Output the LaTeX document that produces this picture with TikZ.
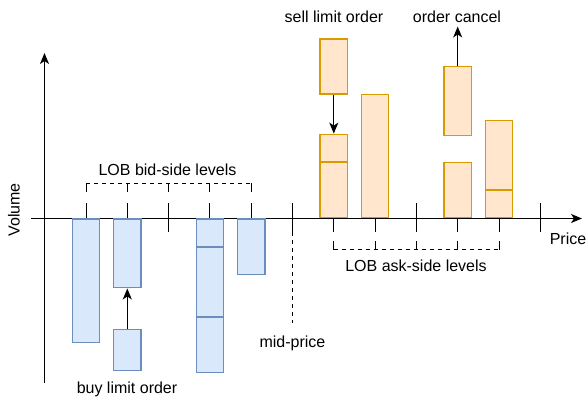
\documentclass[tikz,border=0pt]{standalone}
\usepackage{fontspec}
\setmainfont{Liberation Sans}
\usetikzlibrary{arrows.meta, positioning, calc}
\definecolor{bidfill}{HTML}{DAE8FC}
\definecolor{biddraw}{HTML}{6C8EBF}
\definecolor{askfill}{HTML}{FFE6CC}
\definecolor{askdraw}{HTML}{D79B00}

\begin{document}
\begin{tikzpicture}[
  x=1pt, y=-1pt,
  font=\fontsize{16}{19}\selectfont,
  bar/.style={rectangle, inner sep=0pt, minimum width=27.5pt, line width=1.2pt},
  vol/.style={minimum height=#1*27.5pt},
  bidbar/.style={bar, draw=biddraw, fill=bidfill, anchor=north},
  askbar/.style={bar, draw=askdraw, fill=askfill, anchor=south},
  axis/.style={-{Stealth[length=11pt, width=9pt, inset=3pt]}, line width=1.1pt},
  arrow/.style={-{Stealth[length=11pt, width=9pt, inset=3pt]}, line width=1.1pt},
  tick/.style={line width=1pt},
  dash4/.style={dash pattern=on 4pt off 4pt}
]
  \useasboundingbox (0,0) rectangle (587,401);

  % axes
  \coordinate (xstart) at (31,218.5);
  \coordinate (xend) at (582,218.5);
  \coordinate (ystart) at (44.5,383);
  \coordinate (yend) at (44.5,53);
  \draw[axis] (xstart) -- (xend);
  \draw[axis] (ystart) -- (yend);

  % price ticks
  \foreach \k in {0,1,3,4}
    \draw[tick] (86+41.3*\k,218.5) -- ++(0,-15);
  \foreach \k in {2,5,8,11}
    \draw[tick] (86+41.3*\k,203) -- ++(0,29);
  \foreach \k in {6,7,9,10}
    \draw[tick] (86+41.3*\k,218.5) -- ++(0,14);

  % level brackets
  \draw[tick, dash4] (86,183.5) -- (251.2,183.5);
  \foreach \k in {0,...,4}
    \draw[tick] (86+41.3*\k,183.5) -- ++(0,8.5);
  \draw[tick, dash4] (333.8,250) -- (499,250);
  \foreach \k in {6,...,10}
    \draw[tick] (86+41.3*\k,250) -- ++(0,-9);

  % bid side
  \node[bidbar, vol=4.5] (b1) at (86,218.5) {};
  \node[bidbar, vol=2.5] (b2) at (127.3,218.5) {};
  \node[bidbar, vol=1.5] (b2new) at (127.3,329) {};
  \node[bidbar, vol=1] (b4a) at (209.9,218.5) {};
  \node[bidbar, vol=2.5] (b4b) at (b4a.south) {};
  \node[bidbar, vol=2] (b4c) at (b4b.south) {};
  \node[bidbar, vol=2] (b5) at (251.2,218.5) {};

  % ask side
  \node[askbar, vol=2] (a1a) at (333.8,218.5) {};
  \node[askbar, vol=1] (a1b) at (a1a.north) {};
  \node[askbar, vol=2] (a1new) at (333.8,94.7) {};
  \node[askbar, vol=4.5] (a2) at (375.1,218.5) {};
  \node[askbar, vol=2] (a4) at (457.7,218.5) {};
  \node[askbar, vol=2.5] (a4old) at (457.7,136) {};
  \node[askbar, vol=1] (a5a) at (499,218.5) {};
  \node[askbar, vol=2.5] (a5b) at (a5a.north) {};

  % labels
  \node (bidlbl) at (167.5,170) {LOB bid-side levels};
  \node (asklbl) at (416,266) {LOB ask-side levels};
  \node (buylbl) at (127,389) {buy limit order};
  \node (midlbl) at (292.5,343) {mid-price};
  \node (selllbl) at (334,17) {sell limit order};
  \node (cancellbl) at (457,17) {order cancel};
  \node (pricelbl) at (568,239) {Price};
  \node[rotate=90] (vollbl) at (14,210) {Volume};

  % order events
  \draw[arrow] (b2new.north) -- (b2.south);
  \draw[arrow] (a1new.south) -- (a1b.north);
  \coordinate (cancelend) at (457.7,26.5);
  \draw[arrow] (a4old.north) -- (cancelend);
  \coordinate (midtick) at (292.5,232);
  \coordinate (midend) at (292.5,323);
  \draw[tick, dash4] (midtick) -- (midend);
\end{tikzpicture}
\end{document}
